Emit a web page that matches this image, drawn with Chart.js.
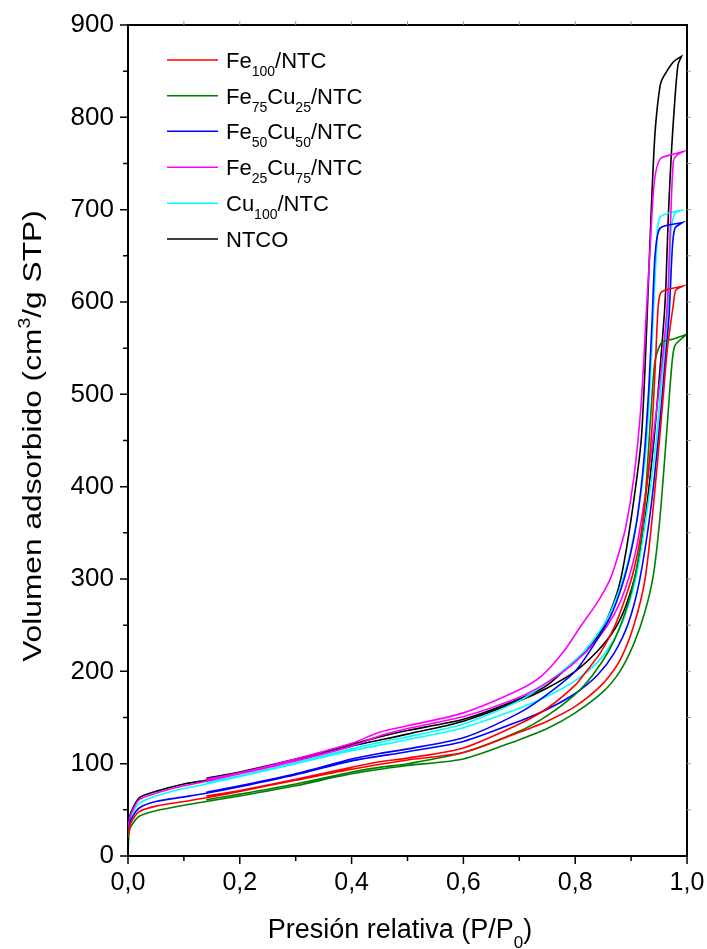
<!DOCTYPE html>
<html>
<head>
<meta charset="utf-8">
<script src="https://cdn.jsdelivr.net/npm/chart.js@4.4.0/dist/chart.umd.min.js"></script>
<style>
  html, body { margin: 0; padding: 0; background: #fff; }
</style>
</head>
<body>
<canvas id="isoChart" width="707" height="949"></canvas>
<script>
// ==========================================
// DATA  (P/P0 vs volumen adsorbido, cm3/g STP)
// ==========================================

const xTickLabels = ["0,0", "0,2", "0,4", "0,6", "0,8", "1,0"];
const yTickValues = [0, 100, 200, 300, 400, 500, 600, 700, 800, 900];

// Fe100/NTC
const fe100AdsP = [0.0005, 0.002, 0.005, 0.02, 0.05, 0.1, 0.14, 0.2, 0.3, 0.4, 0.5, 0.6, 0.7, 0.75, 0.8, 0.85, 0.88, 0.905, 0.925, 0.94, 0.955, 0.965, 0.9755, 0.98, 0.992];
const fe100AdsV = [23, 29, 36, 48, 54, 59, 63, 70, 82, 94, 104, 112, 134, 146, 162, 187, 212, 250, 300, 380, 480, 550, 597, 613, 617];
const fe100DesP = [0.992, 0.9547, 0.9487, 0.944, 0.937, 0.928, 0.918, 0.905, 0.89, 0.87, 0.845, 0.82, 0.8, 0.75, 0.7, 0.6, 0.5, 0.45, 0.4, 0.3, 0.2, 0.14];
const fe100DesV = [617, 611, 597, 540, 460, 400, 350, 310, 280, 248, 220, 200, 185, 160, 143, 117, 106, 102, 96, 83, 71, 65];

// Fe75Cu25/NTC
const fe75AdsP = [0.0005, 0.002, 0.005, 0.02, 0.05, 0.1, 0.14, 0.2, 0.3, 0.4, 0.5, 0.6, 0.7, 0.75, 0.8, 0.85, 0.88, 0.905, 0.925, 0.94, 0.9517, 0.9636, 0.9726, 0.9785, 0.9994];
const fe75AdsV = [20, 26, 32, 43, 49, 55, 59, 65, 76, 89, 98, 105, 126, 138, 155, 178, 200, 230, 265, 305, 367, 458, 530, 553, 565];
const fe75DesP = [0.9994, 0.9755, 0.9547, 0.943, 0.937, 0.925, 0.915, 0.9, 0.88, 0.86, 0.83, 0.8, 0.75, 0.7, 0.6, 0.5, 0.45, 0.4, 0.3, 0.2, 0.14];
const fe75DesV = [565, 560, 556, 537, 494, 386, 330, 285, 248, 222, 195, 175, 152, 135, 112, 100, 96, 91, 78, 67, 61];

// Fe50Cu50/NTC
const fe50AdsP = [0.0005, 0.002, 0.005, 0.02, 0.05, 0.1, 0.14, 0.2, 0.3, 0.4, 0.5, 0.6, 0.7, 0.75, 0.8, 0.84, 0.87, 0.895, 0.915, 0.935, 0.95, 0.96, 0.968, 0.9737, 0.9785, 0.992];
const fe50AdsV = [25, 31, 39, 52, 59, 64, 68, 75, 88, 103, 113, 124, 146, 159, 176, 196, 220, 252, 298, 375, 460, 530, 586, 658, 680, 686];
const fe50DesP = [0.992, 0.952, 0.943, 0.938, 0.932, 0.923, 0.912, 0.9, 0.885, 0.865, 0.84, 0.8, 0.75, 0.7, 0.6, 0.5, 0.45, 0.4, 0.3, 0.2, 0.14];
const fe50DesV = [686, 680, 651, 586, 510, 430, 370, 330, 295, 262, 235, 200, 175, 155, 128, 116, 111, 105, 89, 76, 69];

// Fe25Cu75/NTC
const fe25AdsP = [0.0005, 0.002, 0.005, 0.02, 0.05, 0.1, 0.14, 0.2, 0.3, 0.4, 0.45, 0.5, 0.6, 0.7, 0.75, 0.8, 0.84, 0.87, 0.89, 0.91, 0.93, 0.945, 0.958, 0.965, 0.971, 0.9756, 0.9815, 0.9935];
const fe25AdsV = [28, 36, 45, 61, 68, 76, 81, 89, 103, 119, 130, 138, 151, 172, 188, 210, 235, 262, 290, 335, 410, 480, 550, 600, 694, 752, 759, 763];
const fe25DesP = [0.9935, 0.975, 0.952, 0.9415, 0.934, 0.927, 0.918, 0.905, 0.89, 0.874, 0.862, 0.84, 0.809, 0.78, 0.74, 0.7, 0.6, 0.5, 0.45, 0.4, 0.3, 0.2, 0.14];
const fe25DesV = [763, 760, 755, 730, 658, 586, 490, 410, 355, 320, 299, 275, 248, 222, 195, 180, 155, 141, 134, 122, 105, 90, 83];

// Cu100/NTC
const cu100AdsP = [0.0005, 0.002, 0.005, 0.02, 0.05, 0.1, 0.14, 0.2, 0.3, 0.4, 0.5, 0.6, 0.7, 0.75, 0.8, 0.84, 0.87, 0.89, 0.91, 0.93, 0.945, 0.955, 0.9655, 0.9714, 0.9785, 0.9935];
const cu100AdsV = [27, 34, 43, 57, 65, 73, 78, 86, 100, 114, 126, 139, 160, 173, 190, 210, 235, 262, 305, 380, 450, 520, 586, 676, 696, 700];
const cu100DesP = [0.9935, 0.952, 0.9457, 0.9397, 0.933, 0.925, 0.912, 0.895, 0.88, 0.86, 0.83, 0.8, 0.75, 0.7, 0.6, 0.5, 0.45, 0.4, 0.3, 0.2, 0.14];
const cu100DesV = [700, 692, 658, 586, 500, 430, 370, 320, 290, 260, 232, 212, 188, 168, 143, 129, 123, 116, 101, 87, 80];

// NTCO
const ntcoAdsP = [0.0003, 0.002, 0.005, 0.02, 0.05, 0.1, 0.14, 0.2, 0.3, 0.4, 0.5, 0.6, 0.7, 0.75, 0.8, 0.84, 0.87, 0.89, 0.91, 0.925, 0.94, 0.95, 0.9594, 0.9625, 0.9666, 0.9726, 0.9785, 0.984, 0.99];
const ntcoAdsV = [5, 38, 47, 63, 70, 78, 82, 90, 104, 119, 132, 146, 168, 182, 200, 222, 245, 270, 310, 365, 445, 515, 586, 622, 694, 767, 821, 857, 866];
const ntcoDesP = [0.99, 0.9755, 0.958, 0.952, 0.943, 0.937, 0.931, 0.925, 0.918, 0.905, 0.888, 0.875, 0.85, 0.82, 0.8, 0.75, 0.7, 0.6, 0.5, 0.45, 0.4, 0.3, 0.2, 0.14];
const ntcoDesV = [866, 860, 844, 835, 785, 713, 622, 530, 450, 386, 320, 285, 248, 222, 212, 185, 170, 148, 136, 129, 121, 105, 91, 84];

// legend texts: [text, "" | "sub" | "sup"]
const legendParts = [
  [["Fe", ""], ["100", "sub"], ["/NTC", ""]],
  [["Fe", ""], ["75", "sub"], ["Cu", ""], ["25", "sub"], ["/NTC", ""]],
  [["Fe", ""], ["50", "sub"], ["Cu", ""], ["50", "sub"], ["/NTC", ""]],
  [["Fe", ""], ["25", "sub"], ["Cu", ""], ["75", "sub"], ["/NTC", ""]],
  [["Cu", ""], ["100", "sub"], ["/NTC", ""]],
  [["NTCO", ""]],
];
const seriesColors = ["#ff0000", "#008000", "#0000ff", "#ff00ff", "#00ffff", "#000000"];

const xTitleParts = [["Presión relativa (P/P", ""], ["0", "sub"], [")", ""]];
const yTitleParts = [["Volumen adsorbido (cm", ""], ["3", "sup"], ["/g STP)", ""]];

// ==========================================
// HELPERS
// ==========================================

const FONT = '"Liberation Sans", Arial, sans-serif';

function toPoints(adsP, adsV, desP, desV) {
  const pts = adsP.map((p, i) => ({ x: p, y: adsV[i] }));
  desP.forEach((p, i) => pts.push({ x: p, y: desV[i] }));
  return pts;
}

function drawRich(ctx, parts, x, y, size, align) {
  const small = Math.round(size * 0.62);
  let total = 0;
  parts.forEach(([t, m]) => {
    ctx.font = (m ? small : size) + "px " + FONT;
    total += ctx.measureText(t).width;
  });
  let cx = align === "center" ? x - total / 2 : x;
  parts.forEach(([t, m]) => {
    ctx.font = (m ? small : size) + "px " + FONT;
    let dy = 0;
    if (m === "sub") dy = size * 0.36;
    if (m === "sup") dy = -size * 0.42;
    ctx.fillText(t, cx, y + dy);
    cx += ctx.measureText(t).width;
  });
}

// frame, tick marks, titles and legend
const decorPlugin = {
  id: "decor",
  afterDraw(chart) {
    const { ctx, chartArea: a, scales } = chart;
    const xs = scales.x;
    const ys = scales.y;
    ctx.save();

    ctx.strokeStyle = "#000";
    ctx.lineWidth = 2;
    ctx.beginPath();
    ctx.moveTo(a.left - 1, a.top);
    ctx.lineTo(a.right, a.top);
    ctx.lineTo(a.right, a.bottom + 1);
    ctx.stroke();

    // tick marks (major + minor)
    ctx.lineWidth = 1.5;
    ctx.beginPath();
    for (let v = 0; v <= 900; v += 50) {
      const py = ys.getPixelForValue(v);
      const len = v % 100 === 0 ? 8 : 5;
      ctx.moveTo(a.left - len, py);
      ctx.lineTo(a.left, py);
    }
    for (let i = 0; i <= 10; i++) {
      const px = xs.getPixelForValue(i / 10);
      const len = i % 2 === 0 ? 8 : 5;
      ctx.moveTo(px, a.bottom);
      ctx.lineTo(px, a.bottom + len);
    }
    ctx.stroke();

    // faint ticks on top and right
    ctx.strokeStyle = "#9a9a9a";
    ctx.lineWidth = 1;
    ctx.beginPath();
    for (let i = 1; i < 10; i++) {
      const px = xs.getPixelForValue(i / 10);
      ctx.moveTo(px, a.top - 4);
      ctx.lineTo(px, a.top);
    }
    for (let v = 50; v < 900; v += 50) {
      const py = ys.getPixelForValue(v);
      ctx.moveTo(a.right, py);
      ctx.lineTo(a.right + 4, py);
    }
    ctx.stroke();

    // axis titles
    ctx.fillStyle = "#000";
    ctx.textBaseline = "alphabetic";
    drawRich(ctx, xTitleParts, 400, 938, 27, "center");

    ctx.save();
    ctx.translate(41, 436);
    ctx.rotate(-Math.PI / 2);
    ctx.scale(1.22, 1);
    drawRich(ctx, yTitleParts, 0, 0, 26, "center");
    ctx.restore();

    // legend
    const rowY = [60, 95.7, 131.3, 167.3, 203.3, 239];
    ctx.lineWidth = 1.5;
    legendParts.forEach((parts, i) => {
      ctx.strokeStyle = seriesColors[i];
      ctx.beginPath();
      ctx.moveTo(167, rowY[i]);
      ctx.lineTo(218, rowY[i]);
      ctx.stroke();
      ctx.fillStyle = "#000";
      drawRich(ctx, parts, 226, rowY[i] + 8, 22, "left");
    });

    ctx.restore();
  },
};

// ==========================================
// CHART
// ==========================================

const seriesPoints = [
  toPoints(fe100AdsP, fe100AdsV, fe100DesP, fe100DesV),
  toPoints(fe75AdsP, fe75AdsV, fe75DesP, fe75DesV),
  toPoints(fe50AdsP, fe50AdsV, fe50DesP, fe50DesV),
  toPoints(fe25AdsP, fe25AdsV, fe25DesP, fe25DesV),
  toPoints(cu100AdsP, cu100AdsV, cu100DesP, cu100DesV),
  toPoints(ntcoAdsP, ntcoAdsV, ntcoDesP, ntcoDesV),
];

const ctx = document.getElementById("isoChart").getContext("2d");

new Chart(ctx, {
  type: "scatter",
  data: {
    datasets: seriesPoints.map((pts, i) => ({
      data: pts,
      showLine: true,
      borderColor: seriesColors[i],
      backgroundColor: seriesColors[i],
      borderWidth: 1.6,
      pointRadius: 0,
      tension: 0.25,
    })),
  },
  options: {
    responsive: false,
    devicePixelRatio: 1,
    animation: false,
    layout: { padding: { top: 25, right: 20, left: 0, bottom: 0 } },
    plugins: { legend: { display: false }, tooltip: { enabled: false } },
    scales: {
      x: {
        type: "linear",
        min: 0,
        max: 1,
        ticks: {
          stepSize: 0.2,
          color: "#000",
          font: { family: FONT, size: 25 },
          padding: 12,
          maxRotation: 0,
          callback: (value, index) => xTickLabels[index],
        },
        grid: { display: false, drawTicks: false },
        border: { display: true, color: "#000", width: 2 },
        afterFit: (scale) => {
          scale.height = 93;
          scale.paddingLeft = 0;
          scale.paddingRight = 0;
        },
      },
      y: {
        type: "linear",
        min: 0,
        max: 900,
        ticks: {
          stepSize: 100,
          color: "#000",
          font: { family: FONT, size: 26 },
          padding: 14,
          callback: (value, index) => String(yTickValues[index]),
        },
        grid: { display: false, drawTicks: false },
        border: { display: true, color: "#000", width: 2 },
        afterFit: (scale) => {
          scale.width = 128;
          scale.paddingTop = 0;
          scale.paddingBottom = 0;
        },
      },
    },
  },
  plugins: [decorPlugin],
});
</script>
</body>
</html>
